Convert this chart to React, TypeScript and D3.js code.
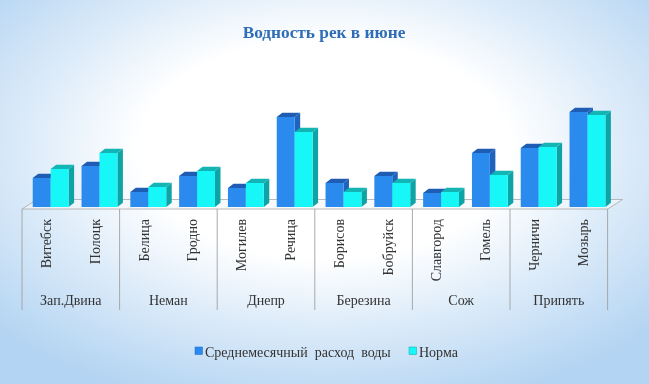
import React from "react";
import * as d3 from "d3";

const cities = ["Витебск", "Полоцк", "Белица", "Гродно", "Могилев", "Речица", "Борисов", "Бобруйск", "Славгород", "Гомель", "Черничи", "Мозырь"];
const rivers = ["Зап.Двина", "Неман", "Днепр", "Березина", "Сож", "Припять"];
const seriesNames = ["Среднемесячный  расход  воды", "Норма"];
const monthlyFlow = [29, 41, 15, 31, 19, 90, 24, 31, 14, 54, 59, 95];
const normFlow = [38, 54, 20, 36, 24, 75, 15, 24, 15, 32, 60, 92];

const W = 649, H = 384;
const left = 22, right = 607.6, baseY = 207;
const DX = 5.5, DY = -4.2;

const colors = [
  { front: "#2B8AEE", top: "#1F5DB4", side: "#1F63BC" },
  { front: "#17F7F7", top: "#12B4B4", side: "#0EA4A6" },
];

export default function App() {
  const x0 = d3.scaleBand<string>().domain(cities).range([left, right]);
  const xg = d3.scaleBand<string>().domain(rivers).range([left, right]);
  const bw = x0.bandwidth();
  const x1 = d3.scaleBand<number>().domain([0, 1]).range([bw * 0.22, bw * 0.955]);
  const y = d3.scaleLinear().domain([0, 100]).range([baseY, baseY - 100]);
  const data = [monthlyFlow, normFlow];

  const bars: React.ReactNode[] = [];
  cities.forEach((c, i) => {
    [0, 1].forEach((s) => {
      const x = (x0(c) as number) + (x1(s) as number);
      const w = x1.bandwidth();
      const yt = y(data[s][i]);
      const col = colors[s];
      const top = `M${x},${yt} L${x + DX},${yt + DY} L${x + w + DX},${yt + DY} L${x + w},${yt} Z`;
      const side = `M${x + w},${yt} L${x + w + DX},${yt + DY} L${x + w + DX},${baseY + DY} L${x + w},${baseY} Z`;
      bars.push(
        <g key={`${c}-${s}`}>
          <path d={side} fill={col.side} />
          <path d={top} fill={col.top} />
          <rect x={x} y={yt} width={w} height={baseY - yt} fill={col.front} />
        </g>
      );
    });
  });

  const floorBackDX = 15, floorBackDY = -9.5;
  const fy = 209;
  const floor = `M${left},${fy} L${right},${fy} L${right + floorBackDX},${fy + floorBackDY} L${left + floorBackDX},${fy + floorBackDY} Z`;

  const sepX = rivers.map((r) => xg(r) as number).concat([right]);

  return (
    <svg width={W} height={H} style={{ position: "fixed", left: 0, top: 0 }} fontFamily="'Liberation Serif', 'Times New Roman', serif">
      <defs>
        <radialGradient id="bg" cx="50%" cy="40%" r="68%" fx="50%" fy="38%">
          <stop offset="0%" stopColor="#ffffff" />
          <stop offset="42%" stopColor="#ffffff" />
          <stop offset="68%" stopColor="#dcebf9" />
          <stop offset="100%" stopColor="#b3d4f2" />
        </radialGradient>
      </defs>
      <rect x={0} y={0} width={W} height={H} fill="url(#bg)" />
      <text x={324} y={37.5} textAnchor="middle" fontWeight="bold" fontSize={17.3} fill="#2E6DB7">Водность рек в июне</text>
      <path d={floor} fill="#f4f7fa" fillOpacity={0.6} stroke="#a8a8a8" strokeWidth={0.8} />
      {bars}
      {sepX.map((sx, i) => (
        <line key={i} x1={sx} x2={sx} y1={fy} y2={310} stroke="#a0a0a0" strokeWidth={0.9} />
      ))}
      {cities.map((c) => {
        const cx = (x0(c) as number) + bw / 2;
        return (
          <text key={c} transform={`translate(${cx + 4.5},${219}) rotate(-90)`} textAnchor="end" fontSize={14} fill="#333">{c}</text>
        );
      })}
      {rivers.map((r) => (
        <text key={r} x={(xg(r) as number) + xg.bandwidth() / 2} y={305} textAnchor="middle" fontSize={14} fill="#333">{r}</text>
      ))}
      <g>
        <rect x={195} y={347} width={7.5} height={7.5} fill={colors[0].front} stroke="#1F63BC" strokeWidth={0.5} />
        <text x={205} y={356.5} fontSize={14} fill="#333" style={{ whiteSpace: "pre" }}>{seriesNames[0]}</text>
        <rect x={409} y={347} width={7.5} height={7.5} fill={colors[1].front} stroke="#0EA4A6" strokeWidth={0.5} />
        <text x={419} y={356.5} fontSize={14} fill="#333">{seriesNames[1]}</text>
      </g>
    </svg>
  );
}
